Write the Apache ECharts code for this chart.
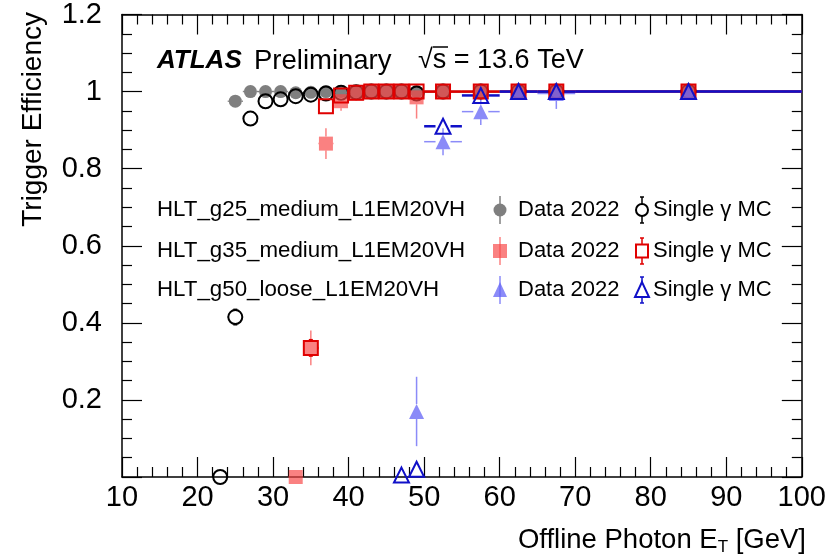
<!DOCTYPE html>
<html>
<head>
<meta charset="utf-8">
<script src="https://cdn.jsdelivr.net/npm/echarts@6/dist/echarts.min.js"></script>
<style>
html, body { margin: 0; padding: 0; background: #fff; }
#main { width: 829px; height: 559px; }
</style>
</head>
<body>
<div id="main"></div>
<script>
// bin centres and half widths, GeV
var etBins = [23, 25, 27, 29, 31, 33, 35, 37, 39, 41, 43, 45, 47, 49, 52.5, 57.5, 62.5, 67.5, 85];
var etHalf = [1, 1, 1, 1, 1, 1, 1, 1, 1, 1, 1, 1, 1, 1, 2.5, 2.5, 2.5, 2.5, 15];

// HLT_g25_medium_L1EM20VH
var g25Data    = [null, 0.975, 1.0, 1.0, 1.0, 0.997, 0.998, 1.0, 1.0, 1.0, 1.0, 1.0, 1.0, 1.0, 1.0, 1.0, 1.0, 1.0, 1.0];
var g25DataErr = [0, 0.006, 0.003, 0.002, 0.002, 0.003, 0.002, 0.002, 0.002, 0.002, 0.002, 0.002, 0.002, 0.002, 0.002, 0.002, 0.002, 0.002, 0.002];
var g25MC      = [0.0, 0.415, 0.93, 0.975, 0.98, 0.988, 0.992, 0.995, 0.997, 0.998, 1.0, 1.0, 1.0, 0.995, 1.0, 1.0, 1.0, 1.0, 1.0];
var g25MCErr   = [0.004, 0.02, 0.012, 0.006, 0.005, 0.004, 0.004, 0.003, 0.003, 0.002, 0.002, 0.002, 0.002, 0.004, 0.002, 0.002, 0.002, 0.002, 0.002];

// HLT_g35_medium_L1EM20VH
var g35Data    = [null, null, null, null, null, 0.0, 0.335, 0.865, 0.975, 0.995, 1.0, 1.0, 1.0, 0.985, 1.0, 1.0, 1.0, 1.0, 1.0];
var g35DataErr = [0, 0, 0, 0, 0, 0.004, 0.045, 0.04, 0.025, 0.01, 0.005, 0.005, 0.005, 0.055, 0.004, 0.004, 0.004, 0.004, 0.004];
var g35MC      = [null, null, null, null, null, null, 0.335, 0.962, 0.99, 0.997, 1.0, 1.0, 1.0, 1.0, 1.0, 1.0, 1.0, 1.0, 1.0];
var g35MCErr   = [0, 0, 0, 0, 0, 0, 0.02, 0.008, 0.004, 0.003, 0.002, 0.002, 0.002, 0.002, 0.002, 0.002, 0.002, 0.002, 0.002];

// HLT_g50_loose_L1EM20VH
var g50Data    = [null, null, null, null, null, null, null, null, null, null, null, null, null, 0.17, 0.87, 0.948, 1.0, 0.995, 1.0];
var g50DataErr = [0, 0, 0, 0, 0, 0, 0, 0, 0, 0, 0, 0, 0, 0.09, 0.035, 0.035, 0.004, 0.04, 0.004];
var g50MC      = [null, null, null, null, null, null, null, null, null, null, null, null, 0.005, 0.02, 0.91, 0.99, 1.0, 1.0, 1.0];
var g50MCErr   = [0, 0, 0, 0, 0, 0, 0, 0, 0, 0, 0, 0, 0.004, 0.006, 0.012, 0.005, 0.002, 0.002, 0.002];

var triggerNames = ['HLT_g25_medium_L1EM20VH', 'HLT_g35_medium_L1EM20VH', 'HLT_g50_loose_L1EM20VH'];
var xTicks = [10, 20, 30, 40, 50, 60, 70, 80, 90, 100];
var yTicks = [0, 0.2, 0.4, 0.6, 0.8, 1.0, 1.2];

var FONT = '"Liberation Sans", Arial, Helvetica, sans-serif';

var cGrey = '#7f7f7f';
var cBlack = '#000000';
var cRedData = 'rgba(248, 70, 70, 0.68)';
var cRedMC = '#e00000';
var cBlueData = 'rgba(100, 100, 245, 0.75)';
var cBlueMC = '#1010c8';

function points(vals, errs) {
  var out = [];
  for (var i = 0; i < etBins.length; i++) {
    if (vals[i] === null) continue;
    var y = vals[i];
    out.push([etBins[i], y, etBins[i] - etHalf[i], etBins[i] + etHalf[i],
      Math.max(0, y - errs[i]), Math.min(1, y + errs[i])]);
  }
  return out;
}

// ROOT-like error bars, leaving a gap round the marker
function errorBars(gap, color, width, caps) {
  return function (params, api) {
    var c = api.coord([api.value(0), api.value(1)]);
    var xl = api.coord([api.value(2), api.value(1)])[0];
    var xh = api.coord([api.value(3), api.value(1)])[0];
    var yl = api.coord([api.value(0), api.value(4)])[1];
    var yh = api.coord([api.value(0), api.value(5)])[1];
    var st = { stroke: color, lineWidth: width };
    var ch = [];
    if (c[0] - gap > xl) ch.push({ type: 'line', shape: { x1: xl, y1: c[1], x2: c[0] - gap, y2: c[1] }, style: st });
    if (xh > c[0] + gap) ch.push({ type: 'line', shape: { x1: c[0] + gap, y1: c[1], x2: xh, y2: c[1] }, style: st });
    if (yl > c[1] + gap) {
      ch.push({ type: 'line', shape: { x1: c[0], y1: c[1] + gap, x2: c[0], y2: yl }, style: st });
      if (caps) ch.push({ type: 'line', shape: { x1: c[0] - 2, y1: yl, x2: c[0] + 2, y2: yl }, style: st });
    }
    if (yh < c[1] - gap) {
      ch.push({ type: 'line', shape: { x1: c[0], y1: yh, x2: c[0], y2: c[1] - gap }, style: st });
      if (caps) ch.push({ type: 'line', shape: { x1: c[0] - 2, y1: yh, x2: c[0] + 2, y2: yh }, style: st });
    }
    return { type: 'group', children: ch };
  };
}

function makeSeries(name, vals, errs, symbol, size, color, open, barWidth) {
  var data = points(vals, errs);
  return [
    {
      name: name + ' err',
      type: 'custom',
      renderItem: errorBars(size / 2, color, barWidth, open),
      encode: { x: [0, 2, 3], y: [1, 4, 5] },
      data: data,
      silent: true
    },
    {
      name: name,
      type: 'scatter',
      symbol: symbol,
      symbolSize: size,
      data: data.map(function (d) { return [d[0], d[1]]; }),
      itemStyle: open
        ? { color: 'rgba(255,255,255,0)', borderColor: color, borderWidth: 2, opacity: 1 }
        : { color: color, opacity: 1 },
      silent: true
    }
  ];
}

var series = [].concat(
  makeSeries('g25 data', g25Data, g25DataErr, 'circle', 13, cGrey, false, 1.5),
  makeSeries('g25 MC', g25MC, g25MCErr, 'circle', 14, cBlack, true, 1.5),
  makeSeries('g35 data', g35Data, g35DataErr, 'rect', 14, cRedData, false, 1.5),
  makeSeries('g35 MC', g35MC, g35MCErr, 'rect', 14, cRedMC, true, 2.5),
  makeSeries('g50 data', g50Data, g50DataErr, 'triangle', 15, cBlueData, false, 1.5),
  makeSeries('g50 MC', g50MC, g50MCErr, 'triangle', 15, cBlueMC, true, 2.5)
);

var axisLine = { show: true, onZero: false, lineStyle: { color: '#000', width: 1.5 } };
var tick = { inside: true, length: 20, lineStyle: { color: '#000', width: 1.2 } };
var minor = { show: true, length: 10, lineStyle: { color: '#000', width: 1.2 } };

function xAx(pos, labels) {
  return {
    type: 'value', position: pos, min: xTicks[0], max: xTicks[xTicks.length - 1], interval: 10,
    axisLine: axisLine, axisTick: tick, minorTick: Object.assign({ splitNumber: 5 }, minor),
    splitLine: { show: false }, minorSplitLine: { show: false },
    axisLabel: { show: labels, color: '#000', fontSize: 29, fontFamily: FONT, margin: 6 }
  };
}
function yAx(pos, labels) {
  return {
    type: 'value', position: pos, min: yTicks[0], max: yTicks[yTicks.length - 1], interval: 0.2,
    axisLine: axisLine, axisTick: tick, minorTick: Object.assign({ splitNumber: 4 }, minor),
    splitLine: { show: false }, minorSplitLine: { show: false },
    axisLabel: {
      show: labels, color: '#000', fontSize: 29, fontFamily: FONT, margin: 20,
      formatter: function (v) { return v === 0 ? '' : String(+v.toFixed(1)); }
    }
  };
}

// legend block drawn as graphics
var legendY = [210, 251, 290];
var dataMarkers = [
  { type: 'circle', shape: { cx: 500, cy: 0, r: 6.5 }, col: cGrey },
  { type: 'rect', shape: { x: 493, y: -7, width: 14, height: 14 }, col: cRedData },
  { type: 'polygon', shape: { points: [[500, -8], [493, 7], [507, 7]] }, col: cBlueData }
];
var mcMarkers = [
  { type: 'circle', shape: { cx: 642, cy: 0, r: 6 }, col: cBlack },
  { type: 'rect', shape: { x: 636, y: -6.5, width: 12, height: 13 }, col: cRedMC },
  { type: 'polygon', shape: { points: [[642, -8], [635, 7], [649, 7]] }, col: cBlueMC }
];
var graphics = [
  { type: 'text', x: 157, y: 61, style: { text: 'ATLAS', fontFamily: FONT, fontSize: 26, fontWeight: 'bold', fontStyle: 'italic', fill: '#000', verticalAlign: 'middle' } },
  { type: 'text', x: 254, y: 61, style: { text: 'Preliminary', fontFamily: FONT, fontSize: 27.5, fill: '#000', verticalAlign: 'middle' } },
  { type: 'text', x: 418, y: 61, style: { text: '\u221As = 13.6 TeV', fontFamily: FONT, fontSize: 27, fill: '#000', verticalAlign: 'middle' } },
  { type: 'line', shape: { x1: 433, y1: 47, x2: 448, y2: 47 }, style: { stroke: '#000', lineWidth: 1.5 } },
  {
    type: 'text', x: 33, y: 12, rotation: Math.PI / 2,
    style: { text: 'Trigger Efficiency', fontFamily: FONT, fontSize: 28, fill: '#000', align: 'right', verticalAlign: 'middle' }
  },
  {
    type: 'text', x: 806, y: 540,
    style: {
      text: '{a|Offline Photon E}{s|T}{a| [GeV]}', align: 'right', verticalAlign: 'middle',
      rich: {
        a: { fontFamily: FONT, fontSize: 27.5, fill: '#000' },
        s: { fontFamily: FONT, fontSize: 17, fill: '#000', padding: [14, 0, 0, 0] }
      }
    }
  }
];
legendY.forEach(function (y, i) {
  graphics.push({ type: 'text', x: 157, y: y, style: { text: triggerNames[i], fontFamily: FONT, fontSize: 22.3, fill: '#000', verticalAlign: 'middle' } });
  graphics.push({ type: 'line', shape: { x1: 500, y1: y - 14, x2: 500, y2: y + 14 }, style: { stroke: dataMarkers[i].col, lineWidth: 1.5 } });
  graphics.push({ type: dataMarkers[i].type, y: y, shape: dataMarkers[i].shape, style: { fill: dataMarkers[i].col } });
  graphics.push({ type: 'text', x: 518, y: y, style: { text: 'Data 2022', fontFamily: FONT, fontSize: 22, fill: '#000', verticalAlign: 'middle' } });
  var mc = mcMarkers[i].col;
  graphics.push({ type: 'line', shape: { x1: 642, y1: y - 13, x2: 642, y2: y - 6 }, style: { stroke: mc, lineWidth: 1.5 } });
  graphics.push({ type: 'line', shape: { x1: 642, y1: y + 6, x2: 642, y2: y + 13 }, style: { stroke: mc, lineWidth: 1.5 } });
  graphics.push({ type: 'line', shape: { x1: 640, y1: y - 13, x2: 644, y2: y - 13 }, style: { stroke: mc, lineWidth: 1.5 } });
  graphics.push({ type: 'line', shape: { x1: 640, y1: y + 13, x2: 644, y2: y + 13 }, style: { stroke: mc, lineWidth: 1.5 } });
  graphics.push({ type: mcMarkers[i].type, y: y, shape: mcMarkers[i].shape, style: { fill: 'rgba(255,255,255,0)', stroke: mc, lineWidth: 2 } });
  graphics.push({ type: 'text', x: 653, y: y, style: { text: 'Single \u03B3 MC', fontFamily: FONT, fontSize: 22, fill: '#000', verticalAlign: 'middle' } });
});

var option = {
  animation: false,
  backgroundColor: '#fff',
  grid: { left: 122, right: 21, top: 13, bottom: 82, containLabel: false },
  xAxis: [xAx('bottom', true), xAx('top', false)],
  yAxis: [yAx('left', true), yAx('right', false)],
  series: series,
  graphic: graphics
};

var chart = echarts.init(document.getElementById('main'), null, { renderer: 'canvas' });
chart.setOption(option);
</script>
</body>
</html>
